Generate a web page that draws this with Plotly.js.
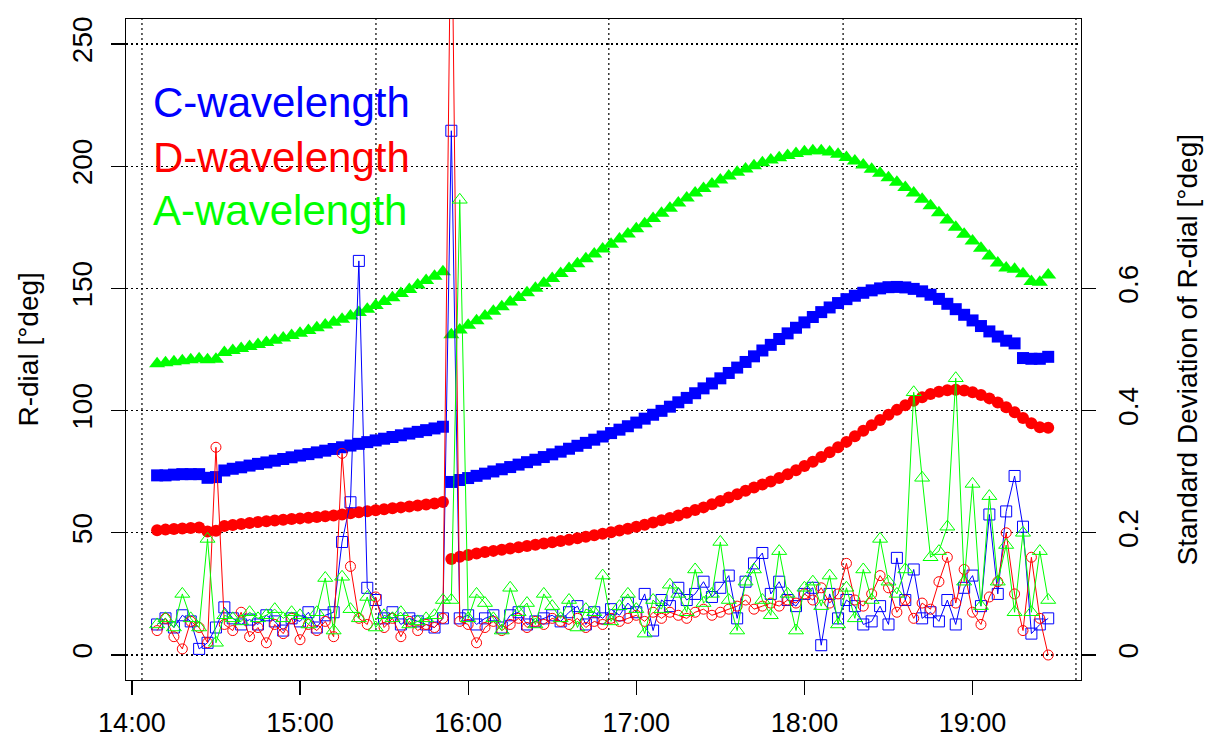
<!DOCTYPE html>
<html>
<head>
<meta charset="utf-8">
<script src="https://cdn.plot.ly/plotly-3.0.1.min.js"></script>
<style>html,body{margin:0;padding:0;background:#fff;}#chart{width:1209px;height:740px;}</style>
</head>
<body>
<div id="chart"></div>
<script>
// time in minutes after 14:00
const T = [9,12,15,18,21,24,27,30,33,36,
39,42,45,48,51,54,57,60,63,66,
69,72,75,78,81,84,87,90,93,96,
99,102,105,108,111,114,117,120,123,126,
129,132,135,138,141,144,147,150,153,156,
159,162,165,168,171,174,177,180,183,186,
189,192,195,198,201,204,207,210,213,216,
219,222,225,228,231,234,237,240,243,246,
249,252,255,258,261,264,267,270,273,276,
279,282,285,288,291,294,297,300,303,306,
309,312,315,318,321,324,327];

// mean R-dial [deg] (left axis)
const C_mean = [73.5,73.5,73.8,74,74,74,72.5,72.8,75.5,76.2,
76.8,77.5,78.2,78.8,79.5,80.2,80.9,81.6,82.2,82.9,
83.6,84.3,85,85.7,86.4,87.1,87.8,88.5,89.2,89.9,
90.6,91.3,92,92.7,93.4,70.8,71.6,72.4,73.3,74.2,
75.1,76,76.9,77.9,78.9,79.9,81,82.1,83.2,84.4,
85.6,86.8,88.1,89.4,90.8,92.2,93.6,95.1,96.7,98.3,
99.9,101.6,103.4,105.2,107.1,109.1,111.1,113.2,115.4,117.6,
119.9,122.2,124.6,126.9,129.3,131.6,133.9,136.1,138.3,140.3,
142.2,144,145.6,147,148.2,149.2,150,150.5,150.6,150.4,
149.8,148.8,147.4,145.7,143.7,141.5,139.2,136.9,134.6,132.4,
130.3,128.6,127.5,121.5,121.2,121.2,122];

const D_mean = [51,51.3,51.6,51.8,52,52.2,50.5,50.8,52.8,53.2,
53.6,54,54.4,54.7,55,55.3,55.6,55.9,56.2,56.5,
56.8,57.1,57.5,58,58.4,58.8,59.2,59.6,60,60.4,
60.8,61.2,61.6,62,62.6,39.3,40.2,40.9,41.5,42.1,
42.6,43.1,43.6,44.1,44.6,45.1,45.6,46.1,46.6,47.2,
47.8,48.4,49,49.6,50.2,50.9,51.7,52.5,53.3,54.2,
55.1,56.1,57.1,58.2,59.3,60.4,61.7,63,64.4,65.8,
67.2,68.5,69.8,71,72.4,74,75.6,77.3,79.1,81,
83,85,87.2,89.5,91.8,94,96.2,98.3,100.3,102.2,
104,105.5,106.8,107.7,108.3,108.5,108.2,107.5,106.4,105,
103.3,101.4,99.3,97,94.8,93.2,93];

const A_mean = [119.2,119.6,120,120.4,120.8,121.2,120.8,121,123.8,124.6,
125.4,126.2,127,127.9,128.8,129.7,130.7,131.7,132.8,133.9,
135,136.2,137.4,138.7,140.1,141.5,143,144.6,146.2,147.9,
149.6,151.4,153.2,155,156.8,131,133,134.9,136.8,138.7,
140.6,142.5,144.4,146.3,148.2,150.1,152.1,154.1,156.1,158.1,
160.1,162.1,164.1,166.1,168.1,170.2,172.3,174.4,176.5,178.6,
180.7,182.8,184.9,187,189,190.9,192.7,194.4,196,197.5,
198.9,200.2,201.4,202.5,203.5,204.4,205.2,205.9,206.3,206.3,
205.8,204.9,203.6,202.1,200.5,198.8,197.1,195.3,193.4,191.3,
189,186.5,183.8,181,178,175,172.2,169.4,166.4,163.3,
160.4,158.3,157.8,156,152.8,152.5,155.5];

// standard deviation of R-dial [deg] (right axis)
const C_sd = [0.05,0.06,0.045,0.065,0.055,0.01,0.02,0.045,0.078,0.06,
0.05,0.058,0.05,0.065,0.055,0.04,0.06,0.055,0.07,0.045,
0.065,0.07,0.185,0.25,0.645,0.11,0.09,0.06,0.07,0.05,
0.06,0.055,0.05,0.045,0.06,0.858,0.06,0.065,0.05,0.06,
0.065,0.045,0.065,0.07,0.05,0.055,0.06,0.065,0.055,0.07,
0.08,0.05,0.07,0.06,0.075,0.065,0.085,0.07,0.1,0.04,
0.09,0.08,0.11,0.09,0.1,0.12,0.095,0.11,0.13,0.06,
0.12,0.15,0.167,0.1,0.12,0.09,0.08,0.1,0.11,0.016,
0.1,0.06,0.09,0.08,0.05,0.055,0.08,0.05,0.159,0.09,
0.14,0.06,0.07,0.055,0.09,0.05,0.11,0.13,0.08,0.23,
0.1,0.235,0.293,0.21,0.035,0.05,0.06];

const D_sd = [0.04,0.06,0.03,0.01,0.055,0.045,0.02,0.34,0.05,0.04,
0.07,0.03,0.045,0.02,0.05,0.035,0.06,0.025,0.05,0.04,
0.055,0.03,0.33,0.145,0.06,0.05,0.095,0.045,0.06,0.03,
0.055,0.04,0.05,0.045,0.06,1.3,0.055,0.05,0.02,0.045,
0.055,0.04,0.05,0.06,0.045,0.055,0.05,0.06,0.055,0.05,
0.06,0.045,0.055,0.05,0.06,0.055,0.06,0.065,0.055,0.07,
0.06,0.07,0.065,0.06,0.07,0.075,0.065,0.07,0.075,0.08,
0.09,0.075,0.08,0.085,0.08,0.09,0.085,0.1,0.09,0.11,
0.085,0.1,0.15,0.09,0.08,0.1,0.13,0.11,0.07,0.09,
0.06,0.085,0.075,0.12,0.16,0.085,0.14,0.07,0.05,0.095,
0.12,0.2,0.1,0.04,0.16,0.06,0];

const A_sd = [0.05,0.06,0.045,0.1,0.06,0.045,0.19,0.02,0.065,0.06,
0.055,0.07,0.06,0.065,0.075,0.06,0.07,0.065,0.05,0.07,
0.126,0.04,0.128,0.075,0.06,0.095,0.045,0.065,0.06,0.07,
0.05,0.055,0.06,0.065,0.09,0.09,0.745,0.06,0.1,0.085,
0.06,0.04,0.11,0.07,0.085,0.05,0.1,0.08,0.06,0.09,
0.045,0.075,0.07,0.13,0.055,0.08,0.1,0.075,0.035,0.09,
0.075,0.115,0.1,0.07,0.14,0.085,0.1,0.185,0.09,0.04,
0.12,0.14,0.09,0.065,0.17,0.1,0.04,0.11,0.12,0.08,
0.13,0.05,0.11,0.06,0.14,0.09,0.19,0.12,0.1,0.14,
0.43,0.29,0.16,0.17,0.21,0.453,0.12,0.28,0.08,0.26,
0.12,0.18,0.07,0.2,0.07,0.17,0.09];

const xTickVals = [0,60,120,180,240,300];
const xTickLabels = ["14:00","15:00","16:00","17:00","18:00","19:00"];
const yTickVals = [0,50,100,150,200,250];
const y2TickVals = [0,0.2,0.4,0.6];
const y2TickLabels = ["0","0.2","0.4","0.6"];
const xGridVals = [3.6,87.1,170.2,253.8,336.9];
const seriesNames = ["C-wavelength","D-wavelength","A-wavelength"];
const colors = ["#0000ff","#ff0000","#00ff00"];

const FONT = "Liberation Sans, Arial, sans-serif";

const meanSets = [C_mean, D_mean, A_mean];
const sdSets = [C_sd, D_sd, A_sd];
const meanSym = ["square","circle","triangle-up"];
const meanSize = [12,12,14];
const sdSym = ["square-open","circle-open","triangle-up-open"];
const sdSize = [11,10,13];

const traces = [];
meanSets.forEach((v,i)=>{
  traces.push({x:T, y:v, type:"scatter", mode:"markers", name:seriesNames[i],
    marker:{symbol:meanSym[i], size:meanSize[i], color:colors[i], line:{width:0}},
    xaxis:"x", yaxis:"y", cliponaxis:true});
});
sdSets.forEach((v,i)=>{
  traces.push({x:T, y:v, type:"scatter", mode:"lines+markers", name:seriesNames[i]+" SD",
    line:{color:colors[i], width:1},
    marker:{symbol:sdSym[i], size:sdSize[i], color:colors[i], line:{width:1, color:colors[i]}},
    xaxis:"x", yaxis:"y2", cliponaxis:true});
});

const shapes = xGridVals.map(v=>({type:"line", xref:"x", yref:"paper", x0:v, x1:v, y0:0, y1:1,
  line:{color:"#000", width:1.2, dash:"2px,3px"}, layer:"below"}));

const legendY = [0.873,0.791,0.711];
const annotations = seriesNames.map((s,i)=>({xref:"paper", yref:"paper", x:0.026, y:legendY[i],
  xanchor:"left", yanchor:"middle", showarrow:false, text:s,
  font:{family:FONT, size:42, color:colors[i]}}));
annotations.push({xref:"paper", yref:"paper", x:-0.1026, y:0.5, xanchor:"center", yanchor:"middle",
  showarrow:false, textangle:-90, text:"R-dial [°deg]", font:{family:FONT, size:28, color:"#000"}});
annotations.push({xref:"paper", yref:"paper", x:1.112, y:0.5, xanchor:"center", yanchor:"middle",
  showarrow:false, textangle:-90, text:"Standard Deviation of R-dial [°deg]", font:{family:FONT, size:28, color:"#000"}});

const layout = {
  width:1209, height:740, autosize:false,
  margin:{l:126, r:128, t:19, b:60, pad:0},
  paper_bgcolor:"#ffffff", plot_bgcolor:"#ffffff",
  showlegend:false,
  font:{family:FONT, size:28, color:"#000"},
  xaxis:{range:[-2.1,338.7], tickvals:xTickVals, ticktext:xTickLabels, ticks:"outside",
    ticklen:14, tickwidth:1.3, tickcolor:"#000", showline:true, mirror:true, linecolor:"#000",
    linewidth:1.3, showgrid:false, zeroline:false, ticklabelstandoff:4,
    tickfont:{family:FONT, size:27, color:"#000"}},
  yaxis:{range:[-10.23,260.23], tickvals:yTickVals, tickangle:-90, ticks:"outside",
    ticklen:14, tickwidth:1.3, tickcolor:"#000", showline:true, mirror:true, linecolor:"#000",
    linewidth:1.3, showgrid:true, gridcolor:"#000", gridwidth:1.2, griddash:"2px,3px",
    zeroline:false, ticklabelstandoff:8, tickfont:{family:FONT, size:28, color:"#000"}},
  yaxis2:{overlaying:"y", side:"right", range:[-0.0409,1.0409], tickvals:y2TickVals,
    ticktext:y2TickLabels, tickangle:-90, ticks:"outside", ticklen:14, tickwidth:1.3,
    tickcolor:"#000", showline:false, showgrid:false, zeroline:false, ticklabelstandoff:8,
    tickfont:{family:FONT, size:28, color:"#000"}},
  shapes:shapes,
  annotations:annotations
};

Plotly.newPlot("chart", traces, layout, {staticPlot:true, displayModeBar:false});
</script>
</body>
</html>
